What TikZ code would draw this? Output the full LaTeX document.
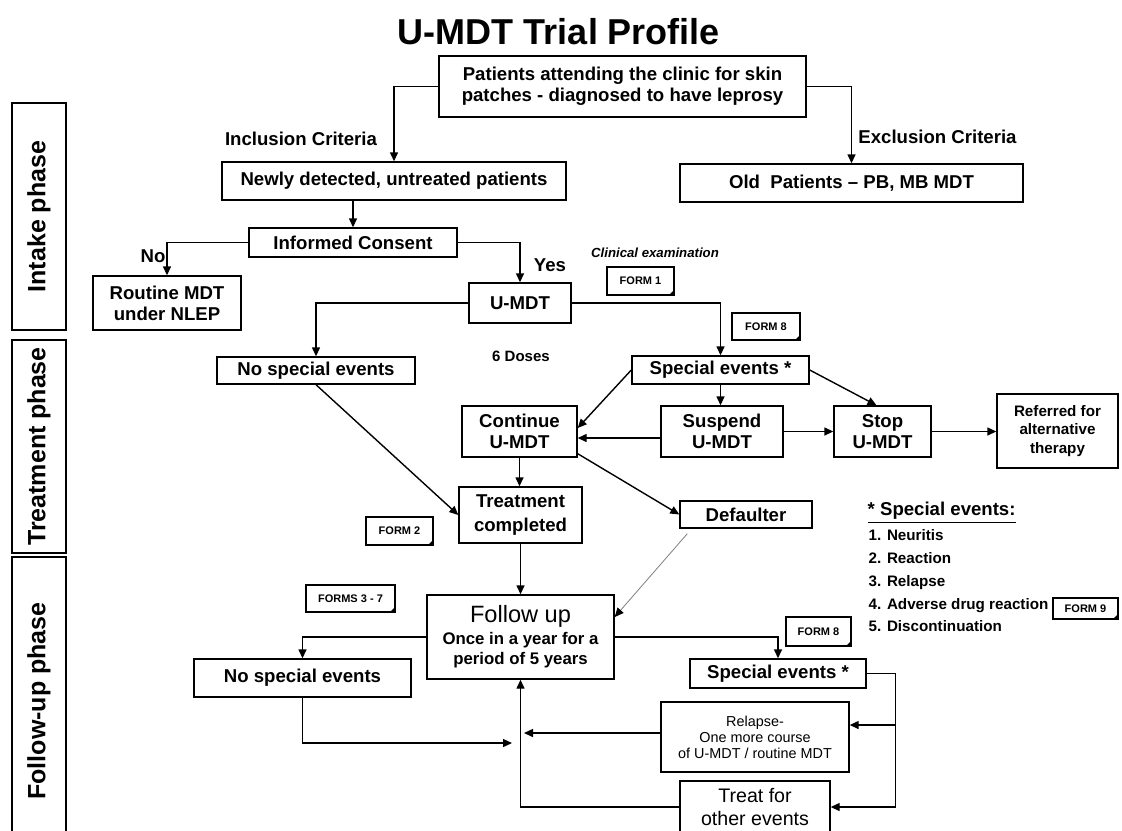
\documentclass[tikz,border=0pt]{standalone}
\usepackage{fontspec}
\setmainfont{Liberation Sans}
\usetikzlibrary{arrows.meta,calc}

\begin{document}
\begin{tikzpicture}[x=0.5pt,y=-0.5pt,line width=0.7pt,
  box/.style={draw,rectangle,align=center,inner sep=0pt,font=\bfseries\fontsize{9.3}{10.5}\selectfont},
  lbl/.style={inner sep=0pt,font=\bfseries\fontsize{9.3}{10.5}\selectfont},
  phase/.style={draw,rectangle,rotate=90,inner sep=0pt,minimum height=27pt,font=\bfseries\fontsize{12.5}{14}\selectfont},
  form/.style={draw,rectangle,inner sep=0pt,font=\bfseries\fontsize{5.5}{6}\selectfont,
    path picture={\fill (path picture bounding box.south east) -- ++(-2.5pt,0) -- ++(2.5pt,2.5pt) -- cycle;}},
  arr/.style={-{Triangle[length=4.5pt,width=4pt]}}]
  \useasboundingbox[fill=white] (0,0) rectangle (1122,830);

  \node[font=\bfseries\fontsize{18}{20}\selectfont] (title) at (559,32) {U-MDT Trial Profile};

  \node[phase,minimum width=113.5pt] (ph1) at (39,216.5) {Intake phase};
  \node[phase,minimum width=106.5pt] (ph2) at (39,446.5) {Treatment phase};
  \node[phase,minimum width=144pt] (ph3) at (39,701) {Follow-up phase};

  \node[box,minimum width=183.5pt,minimum height=30.5pt] (pat) at (622.5,86.5)
    {Patients attending the clinic for skin\\patches - diagnosed to have leprosy};
  \node[box,minimum width=172pt,minimum height=19pt] (newly) at (394,181) {Newly detected, untreated patients};
  \node[box,minimum width=171.5pt,minimum height=19pt] (old) at (851.5,183) {Old\ \ Patients -- PB, MB MDT};
  \node[box,minimum width=104pt,minimum height=14.5pt] (consent) at (353,242.5) {Informed Consent};
  \node[box,minimum width=74pt,minimum height=27pt] (routine) at (167,303) {Routine MDT\\under NLEP};
  \node[box,minimum width=51pt,minimum height=20pt] (umdt) at (520,303) {U-MDT};
  \node[box,minimum width=99pt,minimum height=13.5pt] (nse1) at (316,370.5) {No special events};
  \node[box,minimum width=88.5pt,minimum height=14pt] (se1) at (720.5,370) {Special events *};
  \node[box,minimum width=57.5pt,minimum height=25.5pt] (cont) at (519.5,431.5) {Continue\\U-MDT};
  \node[box,minimum width=61pt,minimum height=25.5pt] (susp) at (722,431.5) {Suspend\\U-MDT};
  \node[box,minimum width=48.5pt,minimum height=25.5pt] (stop) at (882.5,431.5) {Stop\\U-MDT};
  \node[box,minimum width=60.5pt,minimum height=37pt,font=\bfseries\fontsize{7.6}{9.2}\selectfont] (refer) at (1057.5,431)
    {Referred for\\alternative\\therapy};
  \node[box,minimum width=61.5pt,minimum height=28pt,font=\bfseries\fontsize{9.3}{12}\selectfont] (done) at (520.5,515)
    {Treatment\\completed};
  \node[box,minimum width=66pt,minimum height=13.5pt] (dflt) at (746,514.5) {Defaulter};
  \node[box,minimum width=93.5pt,minimum height=42pt,font=\bfseries\fontsize{8.4}{10}\selectfont] (follow) at (520.5,637)
    {{\mdseries\fontsize{11.8}{13}\selectfont Follow up}\\[1pt]Once in a year for a\\period of 5 years};
  \node[box,minimum width=108.5pt,minimum height=19pt] (nse2) at (302.5,678) {No special events};
  \node[box,minimum width=88pt,minimum height=14.5pt] (se2) at (778,673.5) {Special events *};
  \node[box,minimum width=94pt,minimum height=35pt,font=\fontsize{7.2}{8}\selectfont] (relapse) at (755,737)
    {Relapse-\\One more course\\of U-MDT / routine MDT};
  \node[box,minimum width=75pt,minimum height=26pt,font=\fontsize{9.8}{11.3}\selectfont] (treat) at (755,807)
    {Treat for\\other events};

  \node[form,minimum width=33.5pt,minimum height=14pt] (f1) at (640.5,281) {FORM 1};
  \node[form,minimum width=34pt,minimum height=13.5pt] (f8a) at (766,326.5) {FORM 8};
  \node[form,minimum width=33.5pt,minimum height=14pt] (f2) at (399.5,531) {FORM 2};
  \node[form,minimum width=44.5pt,minimum height=13.5pt] (f37) at (350.5,598.5) {FORMS 3 - 7};
  \node[form,minimum width=32.5pt,minimum height=14.5pt] (f8b) at (818.5,631.5) {FORM 8};
  \node[form,minimum width=32.5pt,minimum height=10.5pt] (f9) at (1085.5,608.5) {FORM 9};

  \node[lbl] (incl) at (301,139) {Inclusion Criteria};
  \node[lbl] (excl) at (937.5,137) {Exclusion Criteria};
  \node[lbl] (no) at (153,256) {No};
  \node[lbl] (yes) at (550,265) {Yes};
  \node[inner sep=0pt,font=\bfseries\itshape\fontsize{6.6}{8}\selectfont] (clin) at (655,253) {Clinical examination};
  \node[inner sep=0pt,font=\bfseries\fontsize{7.5}{9}\selectfont] (doses) at (521,356) {6 Doses};
  \node[lbl,anchor=west] (leg) at (867,513) {\underline{* Special events:}};
  \node[inner sep=0pt,anchor=north west,align=left,font=\bfseries\fontsize{7.6}{11.4}\selectfont] (items) at (868,529)
    {1. Neuritis\\2. Reaction\\3. Relapse\\4. Adverse drug reaction\\5. Discontinuation};

  \draw[arr] (pat.west) -| (newly.north);
  \draw[arr] (pat.east) -| (old.north);
  \draw[arr] (newly.south -| consent.north) -- (consent.north);
  \draw[arr] (consent.west) -| (routine.north);
  \draw[arr] (consent.east) -| (umdt.north);
  \draw[arr] (umdt.west) -| (nse1.north);
  \draw[arr] (umdt.east) -| (se1.north);
  \draw[arr] (se1.south) -- (se1.south |- susp.north);
  \draw[arr] (se1.west) -- ($(cont.east)+(0,-3.5)$);
  \draw[arr] (se1.east) -- ($(stop.north)+(-6,0)$);
  \draw[arr] ($(susp.west)+(0,6.5)$) -- ($(cont.east)+(0,6.5)$);
  \draw[arr] (susp.east) -- (stop.west);
  \draw[arr] (stop.east) -- (stop.east -| refer.west);
  \draw[arr] (cont.south) -- (cont.south |- done.north);
  \draw[arr] (nse1.south) -- (done.west);
  \draw[arr] ($(cont.south east)+(0,-4)$) -- (dflt.west);
  \draw[arr] (done.south) -- (done.south |- follow.north);
  \draw[thin,gray,-{Triangle[length=4.5pt,width=4pt,black]}] ($(dflt.south west)+(8,5)$) -- ($(follow.east)+(0,-20)$);
  \draw[arr] (follow.west) -| (nse2.north);
  \draw[arr] (follow.east) -| (se2.north);
  \coordinate (jl) at (512,743);
  \coordinate (jr) at (524,733);
  \draw[arr] (nse2.south) |- (jl);
  \draw[arr] ($(relapse.west)+(0,-4)$) -- (jr);
  \draw[arr] (treat.west) -| (follow.south);
  \draw[arr] (se2.east) -- ++(29,0) |- (treat.east);
  \draw[arr] ($(se2.east)+(29,0)$) |- ($(relapse.east)+(0,-12)$);

\end{tikzpicture}
\end{document}
